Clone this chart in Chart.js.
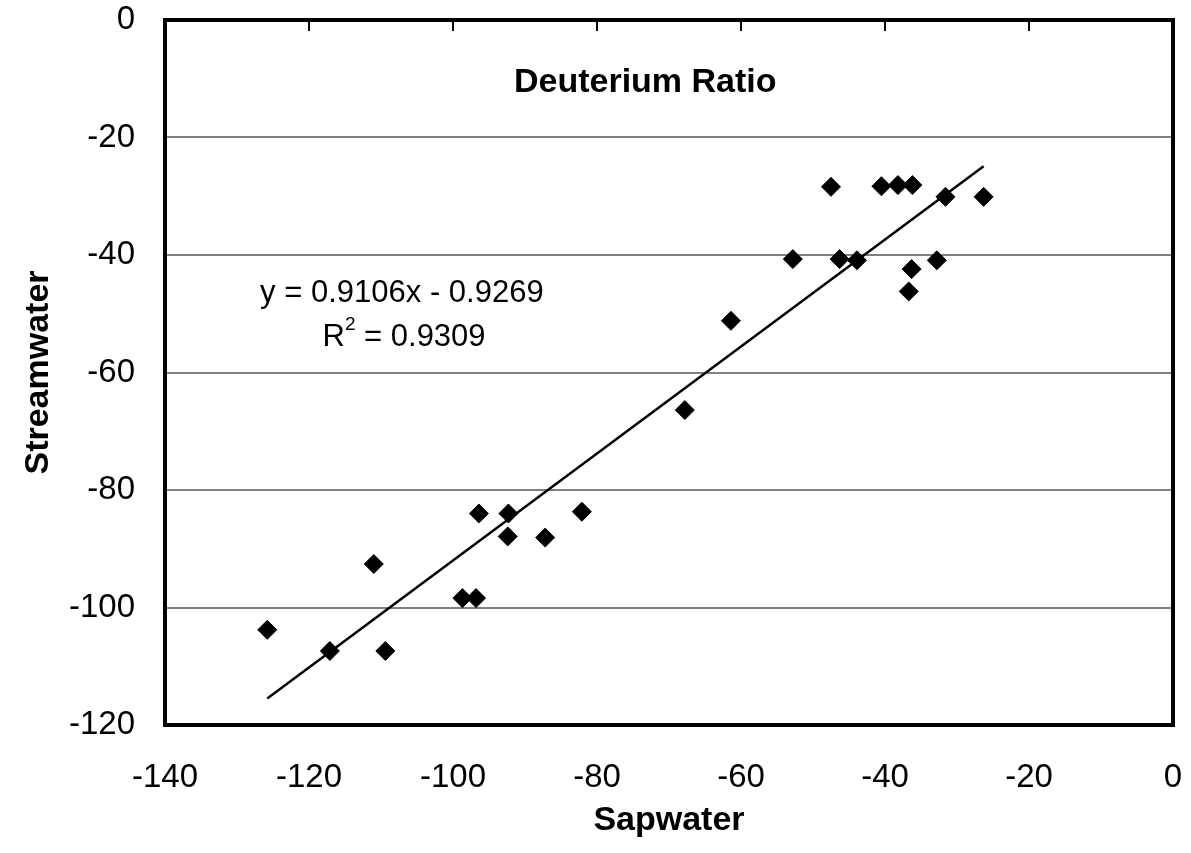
<!DOCTYPE html>
<html>
<head>
<meta charset="utf-8">
<title>Deuterium Ratio</title>
<script src="https://cdn.jsdelivr.net/npm/chart.js@4/dist/chart.umd.min.js"></script>
<style>
  html, body { margin: 0; padding: 0; background: #fff; }
  #wrap { width: 1191px; height: 853px; position: relative; }
</style>
</head>
<body>
<div id="wrap"><canvas id="deutChart"></canvas></div>
<script>
// Data (delta D, per mil)
const sapwater = [-125.8, -117.1, -111.0, -109.4, -98.7, -96.8, -96.4, -92.3, -92.4, -87.2,
                  -82.1, -67.8, -61.4, -52.8, -47.5, -46.3, -43.9, -40.5, -38.2, -36.2,
                  -36.3, -36.7, -32.8, -31.6, -26.3];
const streamwater = [-103.8, -107.4, -92.6, -107.4, -98.4, -98.4, -84.0, -84.0, -87.9, -88.1,
                     -83.7, -66.4, -51.2, -40.7, -28.4, -40.7, -40.9, -28.3, -28.1, -28.1,
                     -42.4, -46.2, -40.9, -30.1, -30.1];

// Trendline as printed on the chart
const slope = 0.9106;
const intercept = -0.9269;
const rSquared = 0.9309;

const xTicks = [-140, -120, -100, -80, -60, -40, -20, 0];
const yTicks = [-120, -100, -80, -60, -40, -20, 0];

const FONT = '"Liberation Sans", Arial, sans-serif';

const points = sapwater.map((x, i) => ({ x: x, y: streamwater[i] }));
const xMin = Math.min(...sapwater);
const xMax = Math.max(...sapwater);
const trend = [
    { x: xMin, y: slope * xMin + intercept },
    { x: xMax, y: slope * xMax + intercept }
];

// keep the plot box where the original has it
function noPadding(scale) {
    scale.paddingTop = 0;
    scale.paddingBottom = 0;
    scale.paddingLeft = 0;
    scale.paddingRight = 0;
}

// Frame, top tick marks, title and equation text inside the plot
const plotExtras = {
    id: 'plotExtras',
    afterDraw(chart) {
        const ctx = chart.ctx;
        const area = chart.chartArea;
        const xs = chart.scales.x;
        const ys = chart.scales.y;
        ctx.save();

        // tick marks hang down from the top edge (x axis crosses at y = 0)
        ctx.strokeStyle = '#000';
        ctx.lineWidth = 2;
        xTicks.forEach(v => {
            const px = Math.round(xs.getPixelForValue(v));
            ctx.beginPath();
            ctx.moveTo(px, area.top);
            ctx.lineTo(px, area.top + 11);
            ctx.stroke();
        });

        // plot border
        ctx.lineWidth = 4;
        ctx.strokeRect(area.left, area.top, area.right - area.left, area.bottom - area.top);

        ctx.fillStyle = '#000';
        ctx.textAlign = 'center';
        ctx.textBaseline = 'middle';

        // chart title
        ctx.font = 'bold 34px ' + FONT;
        ctx.fillText('Deuterium Ratio', xs.getPixelForValue(-73.3), ys.getPixelForValue(-10.6));

        // trendline equation
        ctx.font = '31px ' + FONT;
        const eq = 'y = ' + slope.toFixed(4) + 'x - ' + Math.abs(intercept).toFixed(4);
        ctx.fillText(eq, xs.getPixelForValue(-107.1), ys.getPixelForValue(-46.5));

        // R squared with superscript
        const rest = ' = ' + rSquared.toFixed(4);
        const cx = xs.getPixelForValue(-106.8);
        const cy = ys.getPixelForValue(-54.0);
        ctx.font = '31px ' + FONT;
        const wR = ctx.measureText('R').width;
        const wRest = ctx.measureText(rest).width;
        ctx.font = '19px ' + FONT;
        const wSup = ctx.measureText('2').width;
        const left = cx - (wR + wSup + wRest) / 2;
        ctx.textAlign = 'left';
        ctx.font = '31px ' + FONT;
        ctx.fillText('R', left, cy);
        ctx.font = '19px ' + FONT;
        ctx.fillText('2', left + wR, cy - 12);
        ctx.font = '31px ' + FONT;
        ctx.fillText(rest, left + wR + wSup, cy);

        ctx.restore();
    }
};

const ctx = document.getElementById('deutChart').getContext('2d');
new Chart(ctx, {
    type: 'scatter',
    data: {
        datasets: [
            {
                label: 'Samples',
                data: points,
                pointStyle: 'rectRot',
                pointRadius: 9.5,
                pointBorderWidth: 1,
                backgroundColor: '#000',
                borderColor: '#000',
                order: 1
            },
            {
                label: 'Linear fit',
                type: 'line',
                data: trend,
                borderColor: '#000',
                borderWidth: 2.5,
                pointRadius: 0,
                fill: false,
                order: 2
            }
        ]
    },
    options: {
        responsive: true,
        maintainAspectRatio: false,
        animation: false,
        layout: { padding: { top: 20, right: 18, left: 0, bottom: 0 } },
        plugins: {
            legend: { display: false },
            tooltip: { enabled: false }
        },
        scales: {
            x: {
                type: 'linear',
                min: -140,
                max: 0,
                afterFit: (scale) => { scale.height = 128; noPadding(scale); },
                afterBuildTicks: (scale) => { scale.ticks = xTicks.map(v => ({ value: v })); },
                grid: { display: false, drawTicks: false },
                border: { display: false },
                ticks: {
                    color: '#000',
                    padding: 33,
                    maxRotation: 0,
                    font: { family: FONT, size: 33 }
                },
                title: {
                    display: true,
                    text: 'Sapwater',
                    color: '#000',
                    padding: { top: 0, bottom: 12 },
                    font: { family: FONT, size: 34, weight: 'bold' }
                }
            },
            y: {
                type: 'linear',
                min: -120,
                max: 0,
                afterFit: (scale) => { scale.width = 165; noPadding(scale); },
                afterBuildTicks: (scale) => { scale.ticks = yTicks.map(v => ({ value: v })); },
                grid: { color: '#808080', lineWidth: 2, drawTicks: false },
                border: { display: false },
                ticks: {
                    color: '#000',
                    padding: 30,
                    font: { family: FONT, size: 33 }
                },
                title: {
                    display: true,
                    text: 'Streamwater',
                    color: '#000',
                    padding: { top: 18, bottom: 0 },
                    font: { family: FONT, size: 34, weight: 'bold' }
                }
            }
        }
    },
    plugins: [plotExtras]
});
</script>
</body>
</html>
